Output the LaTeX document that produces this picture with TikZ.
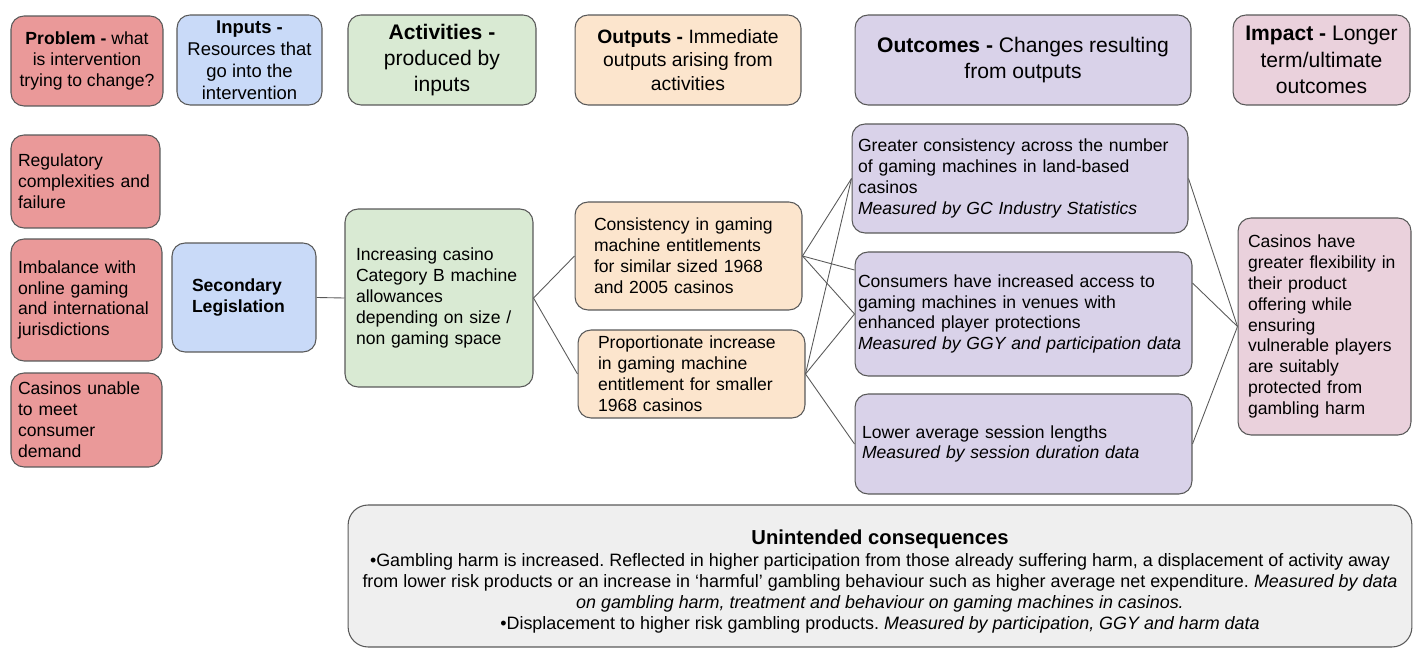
\documentclass[tikz,border=0pt]{standalone}
\usepackage{fontspec}
\setmainfont{Liberation Sans}
\usetikzlibrary{shapes}
\definecolor{probred}{HTML}{EA9999}
\definecolor{inblue}{HTML}{C9DAF8}
\definecolor{actgreen}{HTML}{D9EAD3}
\definecolor{outorange}{HTML}{FCE5CD}
\definecolor{ocpurple}{HTML}{D9D2E9}
\definecolor{imppink}{HTML}{EAD1DC}
\definecolor{unintgray}{HTML}{EFEFEF}
\definecolor{edgegray}{HTML}{595959}
\frenchspacing

\begin{document}
\begin{tikzpicture}[x=0.02cm,y=-0.02cm]
    \tikzstyle{box}=[rectangle,draw=edgegray,line width=0.6pt,rounded corners=0.26cm,inner sep=0pt]
    \tikzstyle{head}=[box,minimum height=1.8cm,align=center]
    \tikzstyle{body}=[box,align=left,font=\fontsize{10}{11.9}\selectfont]
    \tikzstyle{link}=[draw=edgegray,line width=0.5pt]
    \useasboundingbox (0,0) rectangle (1413,648);

    \node[head,fill=probred,minimum width=3.04cm,font=\fontsize{10}{12}\selectfont] (hprob) at (87,61)
      {\textbf{Problem -} what\\is intervention\\trying to change?};
    \node[head,fill=inblue,minimum width=2.9cm,font=\fontsize{10.5}{12.6}\selectfont] (hin) at (249.5,60)
      {\textbf{Inputs -}\\Resources that\\go into the\\intervention};
    \node[head,fill=actgreen,minimum width=3.76cm,font=\fontsize{12}{15}\selectfont] (hact) at (442,60)
      {\textbf{Activities -}\\produced by\\inputs};
    \node[head,fill=outorange,minimum width=4.52cm,font=\fontsize{11}{13.6}\selectfont] (hout) at (688,60)
      {\textbf{Outputs -} Immediate\\outputs arising from\\activities};
    \node[head,fill=ocpurple,minimum width=6.72cm,font=\fontsize{12}{14.8}\selectfont] (hoc) at (1023,60)
      {\textbf{Outcomes -} Changes resulting\\from outputs};
    \node[head,fill=imppink,minimum width=3.54cm,font=\fontsize{12}{15}\selectfont] (himp) at (1321.5,60)
      {\textbf{Impact -} Longer\\term/ultimate\\outcomes};

    \node[body,fill=probred,text width=2.7cm,inner xsep=0.14cm,minimum height=1.86cm] (p1) at (85.5,181.5)
      {Regulatory\\complexities and\\failure};
    \node[body,fill=probred,text width=2.74cm,inner xsep=0.14cm,minimum height=2.44cm] (p2) at (86.5,300)
      {Imbalance with\\online gaming\\and international\\jurisdictions};
    \node[body,fill=probred,text width=2.74cm,inner xsep=0.14cm,minimum height=1.88cm] (p3) at (86.5,420)
      {Casinos unable\\to meet\\consumer\\demand};

    \node[body,fill=inblue,text width=2.08cm,inner xsep=0.4cm,minimum height=2.18cm,font=\fontsize{10}{11.9}\selectfont\bfseries] (leg) at (244,297.5)
      {Secondary\\Legislation};

    \node[body,fill=actgreen,text width=3.32cm,inner xsep=0.22cm,minimum height=3.56cm] (act) at (439,298)
      {Increasing casino\\Category B machine\\allowances\\depending on size /\\non gaming space};

    \node[body,fill=outorange,text width=3.78cm,inner xsep=0.38cm,minimum height=2.16cm] (o1) at (688.5,256)
      {Consistency in gaming\\machine entitlements\\for similar sized 1968\\and 2005 casinos};
    \node[body,fill=outorange,text width=3.74cm,inner xsep=0.4cm,minimum height=1.76cm] (o2) at (691.5,374)
      {Proportionate increase\\in gaming machine\\entitlement for smaller\\1968 casinos};

    \node[body,fill=ocpurple,text width=6.48cm,inner xsep=0.12cm,minimum height=2.18cm] (c1) at (1020,178.5)
      {Greater consistency across the number\\of gaming machines in land-based\\casinos\\\textit{Measured by GC Industry Statistics}};
    \node[body,fill=ocpurple,text width=6.62cm,inner xsep=0.06cm,minimum height=2.48cm] (c2) at (1023.5,314)
      {Consumers have increased access to\\gaming machines in venues with\\enhanced player protections\\\textit{Measured by GGY and participation data}};
    \node[body,fill=ocpurple,text width=6.46cm,inner xsep=0.14cm,minimum height=2cm] (c3) at (1023.5,444)
      {Lower average session lengths\\\textit{Measured by session duration data}};

    \node[body,fill=imppink,text width=3.06cm,inner xsep=0.2cm,minimum height=4.34cm] (imp) at (1324.5,326.5)
      {Casinos have\\greater flexibility in\\their product\\offering while\\ensuring\\vulnerable players\\are suitably\\protected from\\gambling harm};

    \node[box,fill=unintgray,rounded corners=0.4cm,align=center,minimum width=21.28cm,minimum height=2.84cm,font=\fontsize{10.2}{11.9}\selectfont] (unint) at (880,576)
      {{\fontsize{11.5}{14}\selectfont\rule{0pt}{15pt}\textbf{Unintended consequences}}\\[0.6pt]
       \textbullet Gambling harm is increased. Reflected in higher participation from those already suffering harm, a displacement of activity away\\
       from lower risk products or an increase in ‘harmful’ gambling behaviour such as higher average net expenditure. \textit{Measured by data}\\
       \textit{on gambling harm, treatment and behaviour on gaming machines in casinos.}\\
       \textbullet Displacement to higher risk gambling products. \textit{Measured by participation, GGY and harm data}};

    \draw[link] (leg.east) -- (act.west);
    \draw[link] (act.east) -- (o1.west);
    \draw[link] (act.east) -- (o2.west);
    \draw[link] (o1.east) -- (c1.west);
    \draw[link] (o1.east) -- ([yshift=0.88cm]c2.west);
    \draw[link] (o1.east) -- (c2.west);
    \draw[link] (o2.east) -- (c1.west);
    \draw[link] (o2.east) -- (c2.west);
    \draw[link] (o2.east) -- (c3.west);
    \draw[link] (c1.east) -- (imp.west);
    \draw[link] ([yshift=0.62cm]c2.east) -- (imp.west);
    \draw[link] (c3.east) -- (imp.west);
  \end{tikzpicture}
\end{document}
